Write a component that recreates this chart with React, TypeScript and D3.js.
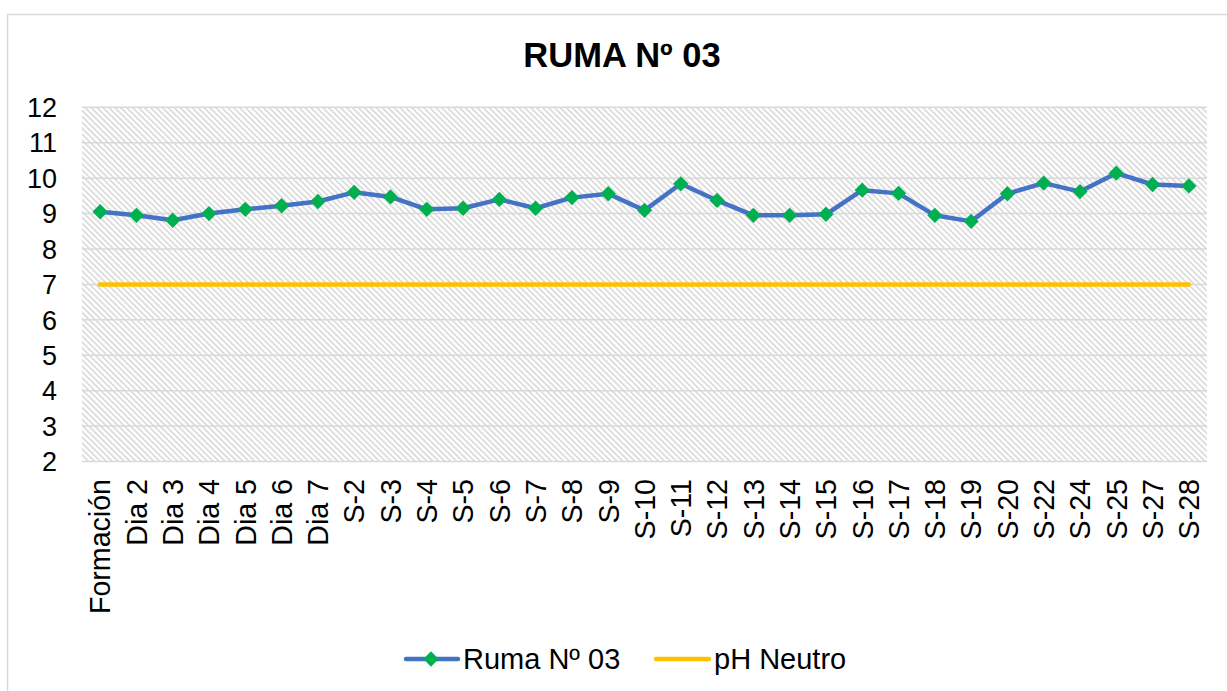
import * as d3 from 'd3'
import React, { useRef, useEffect } from 'react'

// Data
const categories = [
  'Formación', 'Dia 2', 'Dia 3', 'Dia 4', 'Dia 5', 'Dia 6', 'Dia 7',
  'S-2', 'S-3', 'S-4', 'S-5', 'S-6', 'S-7', 'S-8', 'S-9', 'S-10',
  'S-11', 'S-12', 'S-13', 'S-14', 'S-15', 'S-16', 'S-17', 'S-18', 'S-19',
  'S-20', 'S-22', 'S-24', 'S-25', 'S-27', 'S-28',
]
const rumaValues = [
  9.05, 8.95, 8.81, 9.0, 9.12, 9.22, 9.34,
  9.6, 9.47, 9.12, 9.15, 9.4, 9.15, 9.45, 9.56, 9.09,
  9.84, 9.37, 8.95, 8.95, 8.98, 9.66, 9.57, 8.95, 8.78,
  9.56, 9.86, 9.62, 10.14, 9.82, 9.78,
]
const neutralValues = categories.map(() => 7)
const yTicks = [2, 3, 4, 5, 6, 7, 8, 9, 10, 11, 12]
const seriesNames = ['Ruma Nº 03', 'pH Neutro']

const W = 1227
const H = 691
const FONT = '"Liberation Sans", Arial, sans-serif'

const App = () => {
  const ref = useRef<SVGSVGElement | null>(null)

  useEffect(() => {
    const svg = d3.select(ref.current)
    svg.selectAll('*').remove()

    const left = 82, right = 1207, top = 107.3, bottom = 461.5

    const x = d3.scaleBand().domain(categories).range([left, right])
    const cx = (c: string) => (x(c) as number) + x.bandwidth() / 2
    const y = d3.scaleLinear().domain([2, 12]).range([bottom, top])

    // hatch pattern
    const defs = svg.append('defs')
    const pat = defs.append('pattern')
      .attr('id', 'hatch')
      .attr('patternUnits', 'userSpaceOnUse')
      .attr('width', 4.2)
      .attr('height', 4.2)
      .attr('patternTransform', 'rotate(-45)')
    pat.append('rect').attr('width', 4.2).attr('height', 4.2).attr('fill', '#ffffff')
    pat.append('rect').attr('width', 1.8).attr('height', 4.2).attr('fill', '#dcdcdc')

    // chart border
    svg.append('rect')
      .attr('x', 7.5).attr('y', 14.5)
      .attr('width', W + 20).attr('height', H + 20)
      .attr('fill', '#fff')
      .attr('stroke', '#d9d9d9')
      .attr('stroke-width', 1.5)

    // plot area
    svg.append('rect')
      .attr('x', left).attr('y', top)
      .attr('width', right - left).attr('height', bottom - top)
      .attr('fill', 'url(#hatch)')

    // gridlines
    svg.selectAll('.grid')
      .data(yTicks)
      .enter().append('line')
      .attr('x1', left).attr('x2', right)
      .attr('y1', d => y(d)).attr('y2', d => y(d))
      .attr('stroke', '#d9d9d9')
      .attr('stroke-width', 1.5)

    // y labels
    svg.selectAll('.ylab')
      .data(yTicks)
      .enter().append('text')
      .attr('x', 57)
      .attr('y', d => y(d))
      .attr('dy', '0.36em')
      .attr('text-anchor', 'end')
      .style('font-family', FONT)
      .style('font-size', '27px')
      .attr('fill', '#000')
      .text(d => d)

    // x labels
    svg.selectAll('.xlab')
      .data(categories)
      .enter().append('text')
      .attr('transform', d => `translate(${cx(d)}, 479) rotate(-90)`)
      .attr('dy', '0.36em')
      .attr('text-anchor', 'end')
      .style('font-family', FONT)
      .style('font-size', '28.6px')
      .attr('fill', '#000')
      .text(d => d)

    // neutral pH line
    const line = d3.line<number>()
      .x((d, i) => cx(categories[i]))
      .y(d => y(d))

    svg.append('path')
      .datum(neutralValues)
      .attr('d', line)
      .attr('fill', 'none')
      .attr('stroke', '#FFC000')
      .attr('stroke-width', 4.5)
      .attr('stroke-linecap', 'round')

    // series
    svg.append('path')
      .datum(rumaValues)
      .attr('d', line)
      .attr('fill', 'none')
      .attr('stroke', '#4472C4')
      .attr('stroke-width', 4.5)
      .attr('stroke-linejoin', 'round')
      .attr('stroke-linecap', 'round')

    const diamond = d3.symbol().type(d3.symbolDiamond2).size(150)
    svg.selectAll('.marker')
      .data(rumaValues)
      .enter().append('path')
      .attr('d', diamond as any)
      .attr('transform', (d, i) => `translate(${cx(categories[i])}, ${y(d)})`)
      .attr('fill', '#00B050')

    // title
    svg.append('text')
      .attr('x', 622)
      .attr('y', 67)
      .attr('text-anchor', 'middle')
      .style('font-family', FONT)
      .style('font-size', '34.5px')
      .style('font-weight', 'bold')
      .attr('fill', '#000')
      .text('RUMA Nº 03')

    // legend
    const ly = 659
    svg.append('line')
      .attr('x1', 406).attr('x2', 458).attr('y1', ly).attr('y2', ly)
      .attr('stroke', '#4472C4').attr('stroke-width', 4.5).attr('stroke-linecap', 'round')
    svg.append('path')
      .attr('d', diamond as any)
      .attr('transform', `translate(431, ${ly})`)
      .attr('fill', '#00B050')
    svg.append('text')
      .attr('x', 463).attr('y', ly).attr('dy', '0.36em')
      .style('font-family', FONT).style('font-size', '29px')
      .attr('fill', '#000')
      .text(seriesNames[0])
    svg.append('line')
      .attr('x1', 656).attr('x2', 709).attr('y1', ly).attr('y2', ly)
      .attr('stroke', '#FFC000').attr('stroke-width', 4.5).attr('stroke-linecap', 'round')
    svg.append('text')
      .attr('x', 714).attr('y', ly).attr('dy', '0.36em')
      .style('font-family', FONT).style('font-size', '29px')
      .attr('fill', '#000')
      .text(seriesNames[1])
  }, [])

  return (
    <svg ref={ref} width={W} height={H} style={{ position: 'absolute', left: 0, top: 0, background: '#fff' }} />
  )
}

export default App
